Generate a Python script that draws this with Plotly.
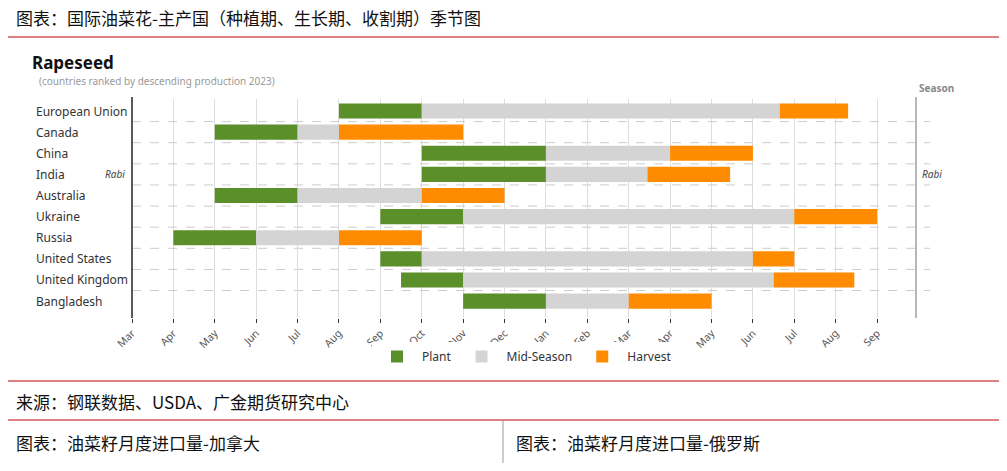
import plotly.graph_objects as go

countries = ["European Union","Canada","China","India","Australia","Ukraine","Russia","United States","United Kingdom","Bangladesh"]
# months since start of March (0 = Mar, 12 = next Mar)
plant_start = [5, 2, 7, 7, 2, 6, 1, 6, 6.5, 8]
plant_end   = [7, 4, 10, 10, 4, 8, 3, 7, 8, 10]
mid_end     = [15.65, 5, 13, 12.45, 7, 16, 5, 15, 15.5, 12]
harv_end    = [17.3, 8, 15, 14.45, 9, 18, 7, 16, 17.45, 14]
tick_labels = ["Mar","Apr","May","Jun","Jul","Aug","Sep","Oct","Nov","Dec","Jan","Feb","Mar","Apr","May","Jun","Jul","Aug","Sep"]

OFF = 8  # page body margin
W, H = 1007 - 2 * OFF, 471 - 2 * OFF
def px(x): return (x - OFF) / W
def py(y): return 1 - (y - OFF) / H

FONT = "Noto Sans"
CJK = "Noto Sans CJK SC"
yidx = list(range(len(countries)))

fig = go.Figure()
def add(name, start, end, color):
    fig.add_trace(go.Bar(y=yidx, x=[e - s for s, e in zip(start, end)], base=start,
                         orientation="h", name=name, marker=dict(color=color, line=dict(width=0)),
                         width=0.72, hoverinfo="skip"))
add("Plant", plant_start, plant_end, "#5a8f29")
add("Mid-Season", plant_end, mid_end, "#d4d4d4")
add("Harvest", mid_end, harv_end, "#ff8c00")

x0, x1 = px(132), px(916)
ytop, ybot = 99.4, 318
fig.update_layout(
    width=W, height=H, margin=dict(l=0, r=0, t=0, b=0, autoexpand=False),
    paper_bgcolor="white", plot_bgcolor="white", barmode="overlay",
    font=dict(family=FONT, color="#333"),
    xaxis=dict(domain=[x0, x1], range=[0, 18.94], tickmode="array",
               tickvals=list(range(len(tick_labels))), ticktext=tick_labels,
               tickangle=-45, tickfont=dict(size=10.5, color="#555"),
               showgrid=True, gridcolor="#dddddd", gridwidth=1, zeroline=False,
               ticks="outside", ticklen=4, tickcolor="#333", layer="below traces",
               automargin=False),
    yaxis=dict(domain=[py(ybot), py(ytop)], range=[9.8, -0.55],
               showticklabels=False, showgrid=False, zeroline=False, automargin=False),
    legend=dict(orientation="h", x=px(372), y=py(342), xanchor="left", yanchor="top",
                font=dict(size=12, color="#333"), itemwidth=40, traceorder="normal"),
    showlegend=True,
)

shapes = []
for i in range(len(countries) - 1):
    shapes.append(dict(type="line", xref="paper", yref="y", x0=x0, x1=px(930), y0=i + 0.5, y1=i + 0.5,
                       line=dict(color="#cccccc", width=1, dash="dash")))
shapes.append(dict(type="line", xref="paper", yref="paper", x0=x0, x1=x0, y0=py(ybot), y1=py(97),
                   line=dict(color="#222", width=1.5)))
shapes.append(dict(type="line", xref="paper", yref="paper", x0=x1, x1=x1, y0=py(ybot), y1=py(97),
                   line=dict(color="#888", width=1.2)))
red = "#c00000"
for yy in [37, 381, 420]:
    shapes.append(dict(type="line", xref="paper", yref="paper", x0=0, x1=1, y0=py(yy), y1=py(yy),
                       line=dict(color=red, width=1)))
shapes.append(dict(type="line", xref="paper", yref="paper", x0=px(503), x1=px(503), y0=0, y1=py(420),
                   line=dict(color="#999", width=1)))
fig.update_layout(shapes=shapes)

def note(text, x, y, size, color="#333", family=FONT, anchor="left", yref="paper"):
    return dict(text=text, xref="paper", yref=yref, x=x, y=y, xanchor=anchor, yanchor="middle",
                showarrow=False, font=dict(size=size, color=color, family=family))

ann = []
for i, c in enumerate(countries):
    ann.append(note(c, px(34), i, 12, yref="y"))
ann.append(note("<i>Rabi</i>", px(127), 3, 10, "#444", anchor="right", yref="y"))
ann.append(note("<i>Rabi</i>", px(920), 3, 10, "#444", yref="y"))
ann.append(note("<b>Season</b>", px(917), py(88), 10, "#888"))
ann.append(note("<b>Rapeseed</b>", px(30), py(62), 17, "#111"))
ann.append(note("(countries ranked by descending production 2023)", px(37), py(81), 10, "#999"))
ann.append(note("图表：国际油菜花-主产国（种植期、生长期、收割期）季节图", px(14), py(17), 17, "#111", CJK))
ann.append(note("来源：钢联数据、USDA、广金期货研究中心", px(14), py(401), 17, "#111", CJK))
ann.append(note("图表：油菜籽月度进口量-加拿大", px(14), py(442), 17, "#111", CJK))
ann.append(note("图表：油菜籽月度进口量-俄罗斯", px(514), py(442), 17, "#111", CJK))
fig.update_layout(annotations=ann)

fig.write_html("out.html")
